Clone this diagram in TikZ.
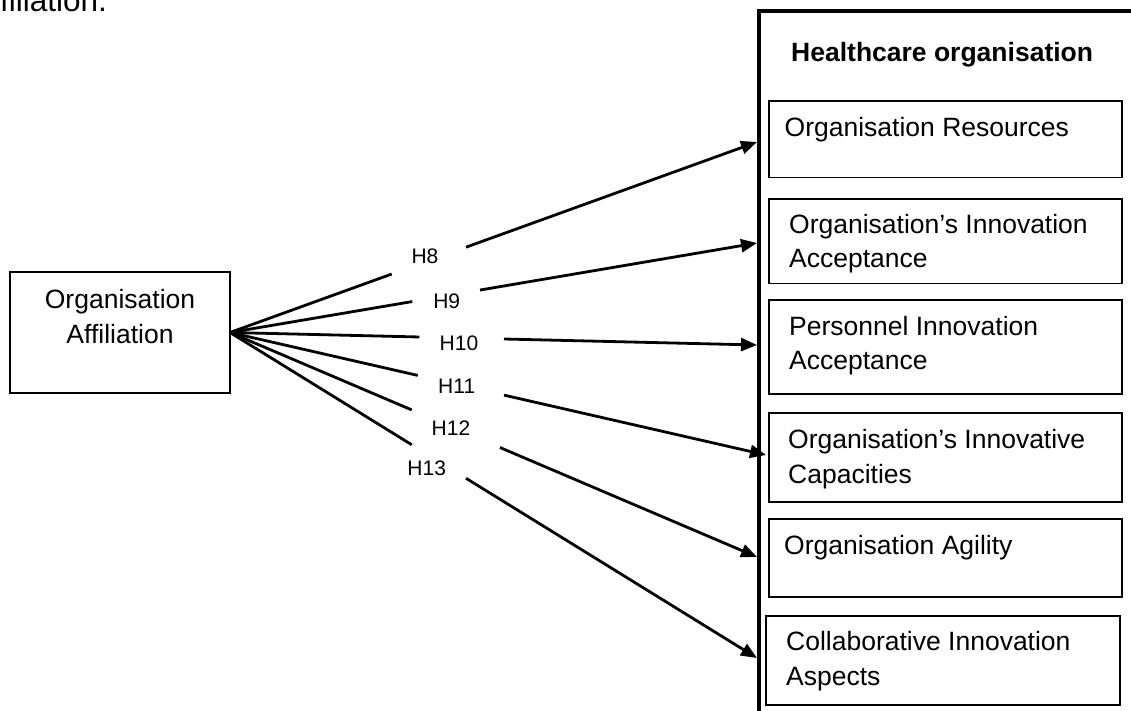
\documentclass[tikz,border=0pt]{standalone}
\usepackage{fontspec}
\setmainfont{Liberation Sans}
\usetikzlibrary{calc,arrows.meta}

\tikzset{
  frame/.style={draw, line width=2pt, inner sep=0pt, outer sep=0pt},
  item/.style={draw, line width=1.3pt, inner sep=0pt, outer sep=0pt, minimum width=353pt},
  % multi-line texts are placed by the baseline of their last line
  body/.style={inner sep=0pt, anchor=base west, align=left,
               font=\fontsize{26.5}{34.5}\selectfont},
  hyp/.style={inner sep=0pt, anchor=base, font=\fontsize{21}{25}\selectfont},
  edge/.style={line width=2.8pt},
  arrow/.style={edge, -{Triangle[length=16pt,width=13pt]}},
}

\begin{document}
\begin{tikzpicture}[x=1pt, y=-1pt]
  \useasboundingbox (0,0) rectangle (1131,711);

  % running text of the page, cut by the top edge
  \node[inner sep=0pt, anchor=base west, font=\fontsize{31.5}{36}\selectfont]
    (run) at (0,11.7) {filiation.};

  % source construct
  \node[frame, minimum width=220pt, minimum height=121pt] (aff) at (120,332.5) {};
  \node[inner sep=0pt, anchor=base, align=center,
        font=\fontsize{26.5}{35}\selectfont] (afftext) at (120,343)
        {Organisation\\Affiliation};

  % healthcare organisation container (runs off the right and bottom edges)
  \draw[line width=4pt] (758.7,730) -- (758.7,11.3) -- (1150,11.3);
  \node[inner sep=0pt, anchor=base west,
        font=\bfseries\fontsize{26.5}{32}\selectfont] (head) at (791,61.7)
        {Healthcare organisation};

  % constructs inside the organisation
  \node[item, minimum height=76.7pt] (b1) at (945.5,139.35) {};
  \node[item, minimum height=84.3pt] (b2) at (945.5,241.15) {};
  \node[item, minimum height=94pt]   (b3) at (945.5,347) {};
  \node[item, minimum height=89pt]   (b4) at (945.5,457.5) {};
  \node[item, minimum height=78pt]   (b5) at (945.5,558) {};
  \node[item, minimum width=354pt, minimum height=89pt] (b6) at (943,660.5) {};

  \node[body] (l1) at (784.5,136.7) {Organisation Resources};
  \node[body] (l2) at (789,267.8) {Organisation’s Innovation\\Acceptance};
  \node[body] (l3) at (789,369.5) {Personnel Innovation\\Acceptance};
  \node[body] (l4) at (788,483)   {Organisation’s Innovative\\Capacities};
  \node[body] (l5) at (784,554)   {Organisation Agility};
  \node[body] (l6) at (786,685)   {Collaborative Innovation\\Aspects};

  % arrow tips on the organisation boundary
  \coordinate (t8)  at (757,142);
  \coordinate (t9)  at (757,243);
  \coordinate (t10) at (757,345);
  \coordinate (t11) at (766,455);
  \coordinate (t12) at (757,557);
  \coordinate (t13) at (757,658);

  % hypothesis paths, each interrupted by its label
  \draw[edge]  (aff.east) -- ($(aff.east)!0.3068!(t8)$);
  \draw[arrow] ($(aff.east)!0.4478!(t8)$) -- (t8);
  \draw[edge]  (aff.east) -- ($(aff.east)!0.3459!(t9)$);
  \draw[arrow] ($(aff.east)!0.4744!(t9)$) -- (t9);
  \draw[edge]  (aff.east) -- ($(aff.east)!0.3592!(t10)$);
  \draw[arrow] ($(aff.east)!0.5199!(t10)$) -- (t10);
  \draw[edge]  (aff.east) -- ($(aff.east)!0.3502!(t11)$);
  \draw[arrow] ($(aff.east)!0.5112!(t11)$) -- (t11);
  \draw[edge]  (aff.east) -- ($(aff.east)!0.3448!(t12)$);
  \draw[arrow] ($(aff.east)!0.5123!(t12)$) -- (t12);
  \draw[edge]  (aff.east) -- ($(aff.east)!0.3448!(t13)$);
  \draw[arrow] ($(aff.east)!0.4478!(t13)$) -- (t13);

  \node[hyp] (h8)  at (425,263.3) {H8};
  \node[hyp] (h9)  at (446.7,308.3) {H9};
  \node[hyp] (h10) at (459,350.7) {H10};
  \node[hyp] (h11) at (456.7,393.3) {H11};
  \node[hyp] (h12) at (451,435) {H12};
  \node[hyp] (h13) at (426.7,475.7) {H13};
\end{tikzpicture}
\end{document}
